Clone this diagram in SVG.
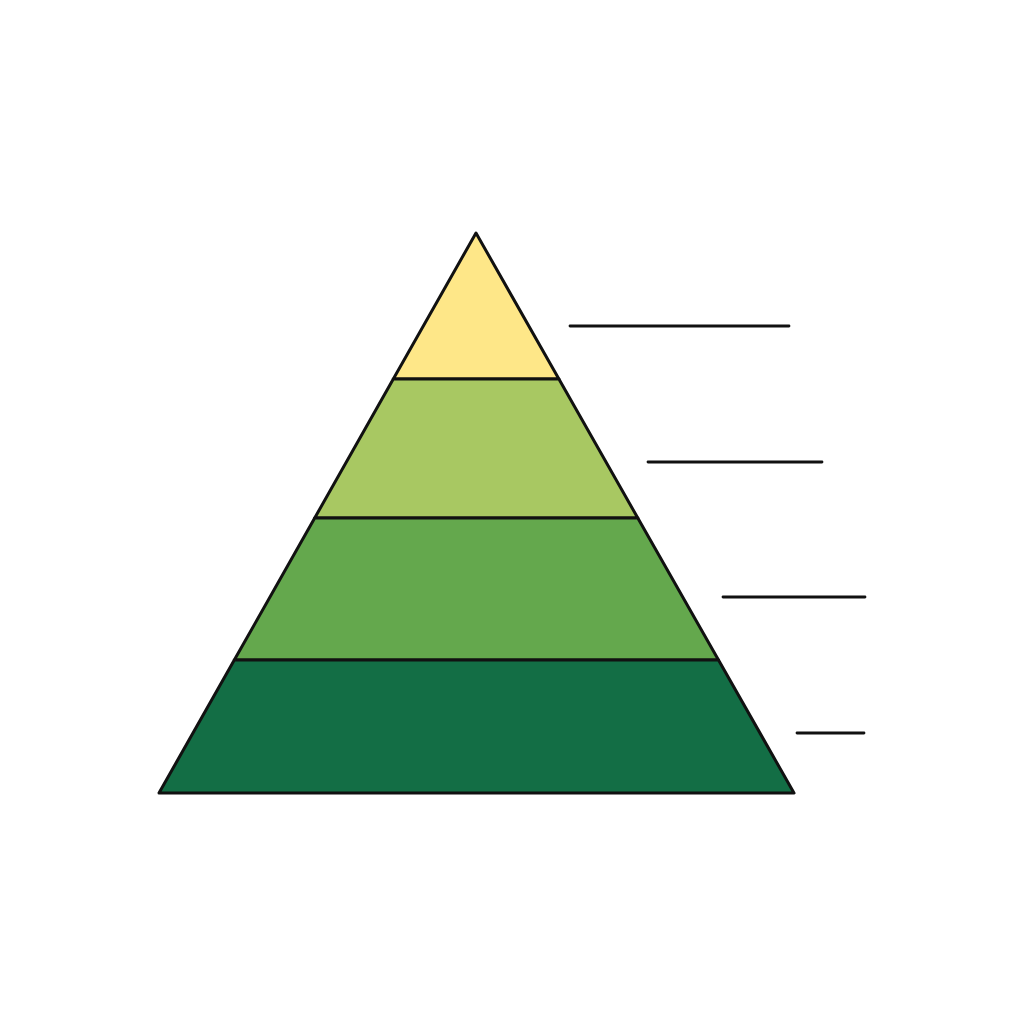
<svg xmlns="http://www.w3.org/2000/svg" width="1024" height="1024" viewBox="0 0 1024 1024">
  <style>
    .tier { stroke: #111; stroke-width: 3; stroke-linejoin: round; }
    .lead { stroke: #111; stroke-width: 2.8; stroke-linecap: round; }
  </style>
  <rect width="1024" height="1024" fill="#ffffff"/>
  <g id="tier1"><polygon class="tier" fill="#FEE788" points="476,233 558.9,379 393.3,379"/></g>
  <g id="tier2"><polygon class="tier" fill="#A8C862" points="393.3,379 558.9,379 637.8,518 314.7,518"/></g>
  <g id="tier3"><polygon class="tier" fill="#64A84D" points="314.7,518 637.8,518 718.5,660 234.3,660"/></g>
  <g id="tier4"><polygon class="tier" fill="#136E45" points="234.3,660 718.5,660 794,793 159,793"/></g>
  <g id="connectors">
    <line class="lead" x1="570" y1="326" x2="789" y2="326"/>
    <line class="lead" x1="648" y1="462" x2="822" y2="462"/>
    <line class="lead" x1="723" y1="597" x2="865" y2="597"/>
    <line class="lead" x1="797" y1="733" x2="864" y2="733"/>
  </g>
</svg>
